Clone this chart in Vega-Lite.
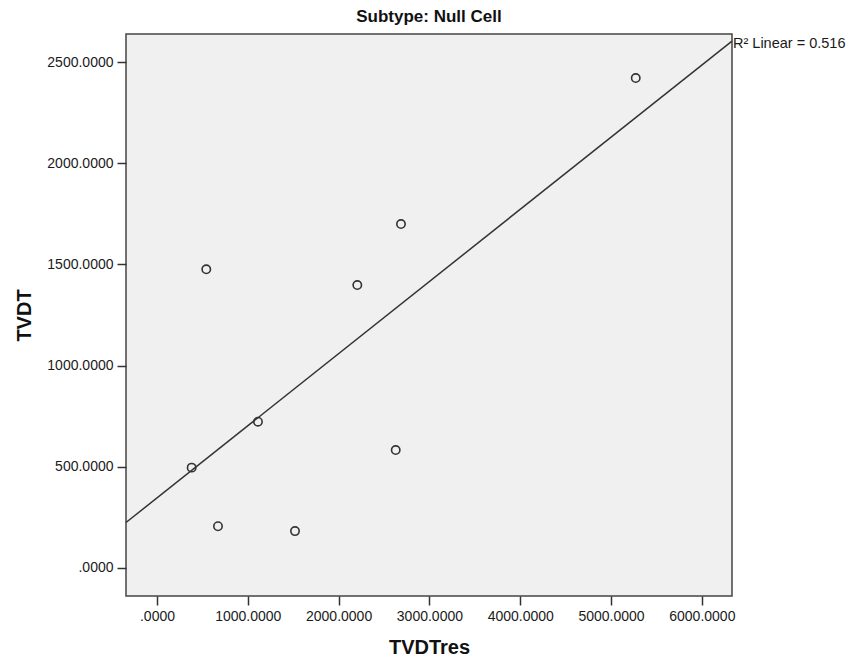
{
  "$schema": "https://vega.github.io/schema/vega-lite/v6.json",
  "width": 606,
  "height": 562,
  "autosize": {"type": "none"},
  "padding": {"left": 126, "top": 34, "right": 128, "bottom": 61},
  "background": "#ffffff",
  "config": {
    "font": "Liberation Sans",
    "view": {"fill": "#f0f0f0", "stroke": "#444444", "strokeWidth": 1.5},
    "axis": {
      "domain": false,
      "grid": false,
      "tickColor": "#333333",
      "tickWidth": 1.5,
      "tickSize": 9,
      "labelFont": "Liberation Sans",
      "labelFontSize": 14,
      "labelColor": "#1a1a1a",
      "labelPadding": 4,
      "titleFont": "Liberation Sans",
      "titleFontSize": 20,
      "titleFontWeight": "bold",
      "titleColor": "#111111"
    }
  },
  "title": {
    "text": "Subtype: Null Cell",
    "font": "Liberation Sans",
    "fontSize": 17,
    "fontWeight": "bold",
    "color": "#111111",
    "offset": 8,
    "anchor": "middle"
  },
  "data": {
    "values": [
      {"TVDTres": 5272, "TVDT": 2422},
      {"TVDTres": 2687, "TVDT": 1700},
      {"TVDTres": 2206, "TVDT": 1398},
      {"TVDTres": 543, "TVDT": 1476},
      {"TVDTres": 1112, "TVDT": 722},
      {"TVDTres": 382, "TVDT": 495},
      {"TVDTres": 672, "TVDT": 205},
      {"TVDTres": 1520, "TVDT": 181},
      {"TVDTres": 2629, "TVDT": 582}
    ]
  },
  "layer": [
    {
      "transform": [
        {"regression": "TVDT", "on": "TVDTres", "extent": [-341, 6332]}
      ],
      "mark": {"type": "line", "color": "#333333", "strokeWidth": 1.5},
      "encoding": {
        "x": {"field": "TVDTres", "type": "quantitative"},
        "y": {"field": "TVDT", "type": "quantitative"}
      }
    },
    {
      "mark": {"type": "point", "shape": "circle", "filled": false, "size": 70, "stroke": "#333333", "strokeWidth": 1.6, "opacity": 1},
      "encoding": {
        "x": {
          "field": "TVDTres",
          "type": "quantitative",
          "scale": {"domain": [-341, 6332], "nice": false, "zero": false},
          "axis": {
            "title": "TVDTres",
            "values": [0, 1000, 2000, 3000, 4000, 5000, 6000],
            "labelExpr": "datum.value == 0 ? '.0000' : format(datum.value, '.4f')",
            "titlePadding": 14
          }
        },
        "y": {
          "field": "TVDT",
          "type": "quantitative",
          "scale": {"domain": [-140, 2640], "nice": false, "zero": false},
          "axis": {
            "title": "TVDT",
            "values": [0, 500, 1000, 1500, 2000, 2500],
            "labelExpr": "datum.value == 0 ? '.0000' : format(datum.value, '.4f')",
            "titlePadding": 12
          }
        }
      }
    },
    {
      "data": {"values": [{"x": 6332, "y": 2590, "label": "R² Linear = 0.516"}]},
      "mark": {"type": "text", "align": "left", "baseline": "middle", "dx": 1, "fontSize": 14.5, "color": "#1a1a1a", "clip": false},
      "encoding": {
        "x": {"field": "x", "type": "quantitative"},
        "y": {"field": "y", "type": "quantitative"},
        "text": {"field": "label"}
      }
    }
  ]
}
